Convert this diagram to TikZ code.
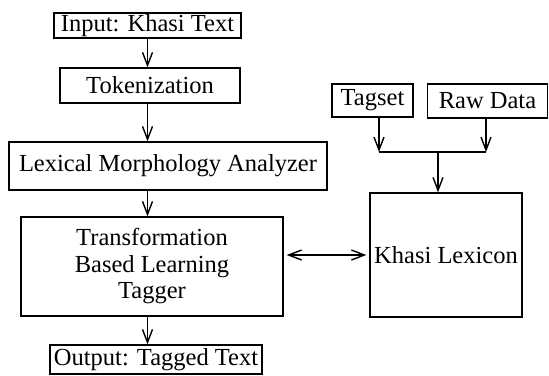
\documentclass[tikz,border=0pt]{standalone}
\usepackage{fontspec}
\setmainfont{Liberation Serif}
\usetikzlibrary{arrows.meta}
\begin{document}
\begin{tikzpicture}[x=1pt,y=-1pt,
  box/.style={draw,line width=1.4pt,inner sep=0pt,font=\fontsize{24.5}{26.5}\selectfont,align=center},
  tip/.style={},
  arr/.style={line width=1.4pt,-{Straight Barb[length=13pt,width=10pt,line width=1.4pt]}},
  darr/.style={line width=1.4pt,{Straight Barb[length=13pt,width=10pt,line width=1.4pt]}-{Straight Barb[length=13pt,width=10pt,line width=1.4pt]}}]
\useasboundingbox (0,0) rectangle (549,375);
\node[box,minimum width=187pt,minimum height=25pt] (in) at (147.5,25.5) {Input: Khasi Text};
\node[box,minimum width=180pt,minimum height=35pt] (tok) at (150,85.5) {Tokenization};
\node[box,minimum width=318pt,minimum height=48pt] (lex) at (168,166) {Lexical Morphology Analyzer};
\node[box,minimum width=262pt,minimum height=99pt] (tbl) at (152,266.5) {Transformation\\Based Learning\\Tagger};
\node[box,minimum width=212pt,minimum height=29pt] (out) at (156,359.5) {Output: Tagged Text};
\node[box,minimum width=81pt,minimum height=33pt] (tag) at (372.5,100.5) {Tagset};
\node[box,minimum width=120pt,minimum height=34pt] (raw) at (487.5,101) {Raw Data};
\node[box,minimum width=152pt,minimum height=124pt] (lexi) at (446,255) {Khasi Lexicon};
\coordinate (j) at (438,152);
\coordinate (ts) at (379,117);
\draw[arr] (in.south) -- (in.south |- tok.north);
\draw[arr] (in.south |- tok.south) -- (in.south |- lex.north);
\draw[arr] (in.south |- lex.south) -- (in.south |- tbl.north);
\draw[arr] (in.south |- tbl.south) -- (in.south |- out.north);
\draw[arr] (ts) -- (ts |- j);
\draw[arr] (raw.south -| 486,0) -- (486,152);
\draw[line width=1.4pt] (ts |- j) -- (486,152);
\draw[arr] (j) -- (j |- lexi.north);
\draw[darr,shorten <=3pt,shorten >=3pt] (tbl.east |- lexi.west) -- (lexi.west);
\end{tikzpicture}
\end{document}
